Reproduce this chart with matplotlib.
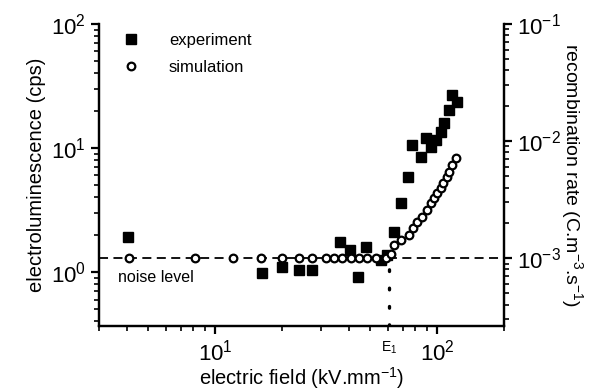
import matplotlib
matplotlib.use("Agg")
import matplotlib.pyplot as plt
from matplotlib.lines import Line2D

plt.rcParams['font.family'] = ['Liberation Sans', 'DejaVu Sans']
plt.rcParams['mathtext.fontset'] = 'custom'
plt.rcParams['mathtext.rm'] = 'Liberation Sans'
plt.rcParams['mathtext.it'] = 'Liberation Sans:italic'

# measured electroluminescence (cps) vs field (kV/mm)
exp_field = [4.07, 16.3, 20.0, 23.8, 27.5, 36.4, 40.7, 44.2, 48.1, 56.1, 59.5,
             64.1, 69.0, 74.1, 77.3, 84.8, 89.3, 94.0, 99.0, 104.0, 107.5,
             113.0, 116.8, 123.0]
exp_el = [1.92, 0.98, 1.10, 1.04, 1.04, 1.75, 1.51, 0.91, 1.59, 1.25, 1.37,
          2.10, 3.60, 5.84, 10.6, 8.46, 12.0, 10.2, 11.6, 13.5, 15.9,
          20.3, 26.8, 23.5]

# simulated recombination rate (C m^-3 s^-1)
sim_field = [4.1, 8.1, 12.0, 16.1, 20.0, 24.0, 27.5, 31.8, 34.5, 37.5, 41.1,
             44.7, 48.5, 53.2, 59.0, 62.0, 64.1, 69.0, 74.9, 78.0, 81.3, 85.6,
             90.2, 94.0, 97.0, 100.0, 104.0, 107.0, 110.8, 113.0, 116.8, 121.6]
sim_rate = [1.0e-3, 1.0e-3, 1.0e-3, 1.0e-3, 1.0e-3, 1.0e-3, 1.0e-3, 1.0e-3,
            1.0e-3, 1.0e-3, 1.0e-3, 1.0e-3, 1.0e-3, 1.0e-3, 1.0e-3, 1.08e-3,
            1.29e-3, 1.43e-3, 1.57e-3, 1.80e-3, 2.03e-3, 2.24e-3, 2.57e-3,
            2.95e-3, 3.26e-3, 3.60e-3, 3.97e-3, 4.38e-3, 4.93e-3, 5.43e-3,
            6.24e-3, 7.16e-3]

noise_rate = 1e-3
E1 = 61.0

fig = plt.figure(figsize=(5.92, 3.91), dpi=100)
ax = fig.add_axes([0.167, 0.166, 0.684, 0.773])
ax2 = ax.twinx()

ax.set_xscale('log')
ax.set_yscale('log')
ax2.set_yscale('log')
ax.set_xlim(3, 200)
ax.set_ylim(0.367, 100)
ax2.set_ylim(2.63e-4, 1e-1)

ax.plot(exp_field, exp_el, 's', color='black', ms=6.8, zorder=3)
ax2.plot(sim_field, sim_rate, 'o', mfc='white', mec='black', mew=1.6,
         ms=5.5, zorder=3)

# noise level and threshold field
ax2.axhline(noise_rate, color='black', lw=1.3, ls=(0, (5, 3)), zorder=2)
ax2.plot([E1, E1], [2.63e-4, noise_rate], color='black', lw=2.4,
         ls=(0, (0.5, 5)), dash_capstyle='round')
ax.text(3.67, 0.91, 'noise level', fontsize=11.5, va='center', ha='left')
ax.text(E1, -0.045, 'E$_1$', transform=ax.get_xaxis_transform(),
        fontsize=10, ha='center', va='top')

ax.spines['top'].set_visible(False)
ax2.spines['top'].set_visible(False)
for a in (ax, ax2):
    for s in a.spines.values():
        s.set_linewidth(1.6)
    a.tick_params(which='major', length=6, width=1.6, labelsize=16)
    a.tick_params(which='minor', length=3.5, width=1.2)

ax.set_xlabel('electric field (kV.mm$^{-1}$)', fontsize=14.5, labelpad=0)
ax.set_ylabel('electroluminescence (cps)', fontsize=14.5, labelpad=3)
ax2.set_ylabel('recombination rate (C.m$^{-3}$.s$^{-1}$)', fontsize=14,
               rotation=-90, labelpad=17)

handles = [Line2D([], [], marker='s', ls='', color='black', ms=6.8),
           Line2D([], [], marker='o', ls='', mfc='white', mec='black',
                  mew=1.6, ms=5.5)]
ax.legend(handles, ['experiment', 'simulation'], loc='upper left',
          bbox_to_anchor=(0.0, 1.02), frameon=False, fontsize=12,
          handletextpad=1.3, labelspacing=0.75)

fig.savefig('out.png', dpi=100)
